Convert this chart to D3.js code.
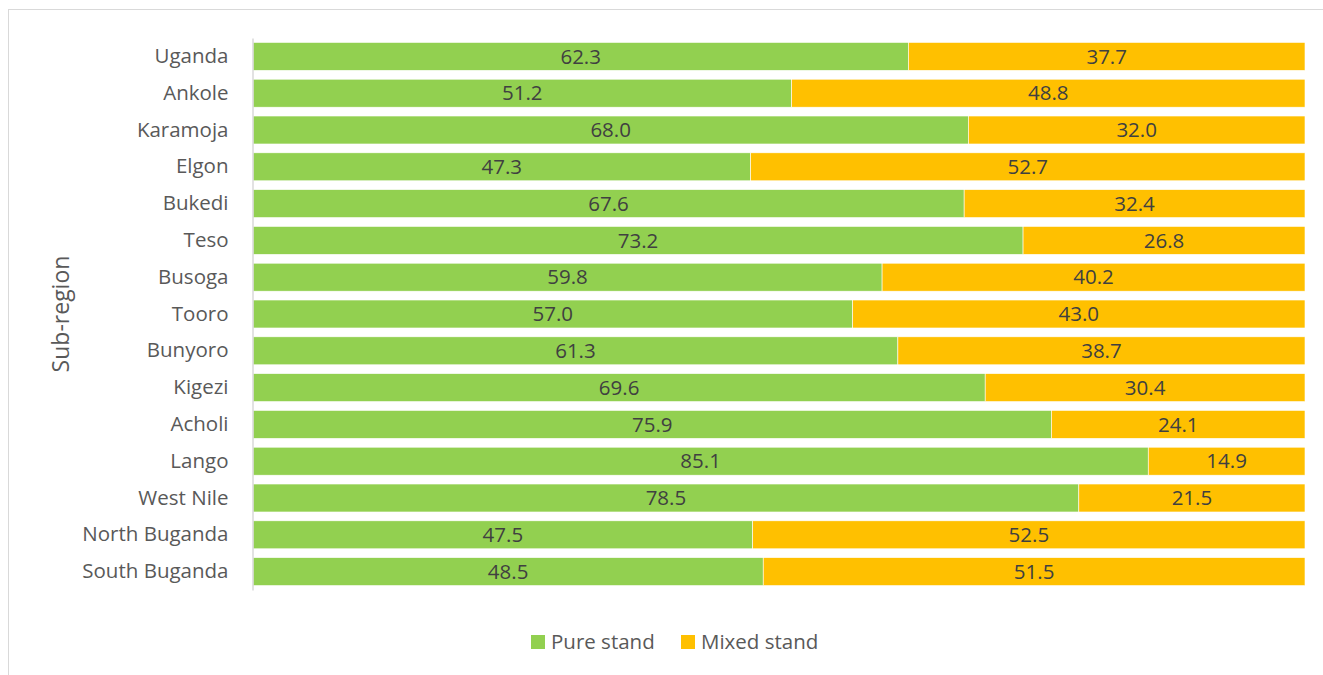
<!DOCTYPE html>
<html>
<head>
<meta charset="utf-8">
<script src="https://cdn.jsdelivr.net/npm/d3@7"></script>
<style>
  html, body { margin: 0; padding: 0; background: #fff; }
  svg { display: block; font-family: "Open Sans", sans-serif; }
</style>
</head>
<body>
<svg id="chart" width="1323" height="675"></svg>
<script>
const categories = ["Uganda","Ankole","Karamoja","Elgon","Bukedi","Teso","Busoga","Tooro","Bunyoro","Kigezi","Acholi","Lango","West Nile","North Buganda","South Buganda"];
const pureStand  = [62.3,51.2,68.0,47.3,67.6,73.2,59.8,57.0,61.3,69.6,75.9,85.1,78.5,47.5,48.5];
const mixedStand = [37.7,48.8,32.0,52.7,32.4,26.8,40.2,43.0,38.7,30.4,24.1,14.9,21.5,52.5,51.5];
const seriesNames = ["Pure stand","Mixed stand"];
const seriesColors = ["#92D050","#FFC000"];
const axisTitle = "Sub-region";

const svg = d3.select("#chart");
const W = 1323, H = 675;

// outer frame
svg.append("rect").attr("x", 8.5).attr("y", 9.5).attr("width", W + 20).attr("height", H + 20)
  .attr("fill", "none").attr("stroke", "#d9d9d9").attr("stroke-width", 1);

const pLeft = 253, pRight = 1305, pTop = 38, pBottom = 590;

const x = d3.scaleLinear().domain([0, 100]).range([pLeft, pRight]);
const y = d3.scaleBand().domain(categories).range([pTop, pBottom]).paddingInner(0.24).paddingOuter(0.12);

const stackData = categories.map((c, i) => ({cat: c, pure: pureStand[i], mixed: mixedStand[i]}));
const stack = d3.stack().keys(["pure","mixed"])(stackData);

const g = svg.append("g");
stack.forEach((layer, si) => {
  g.selectAll(".bar" + si).data(layer).enter().append("rect")
    .attr("x", d => x(d[0]))
    .attr("y", d => y(d.data.cat))
    .attr("width", d => x(d[1]) - x(d[0]))
    .attr("height", y.bandwidth())
    .attr("fill", seriesColors[si])
    .attr("stroke", "#ffffff").attr("stroke-width", 0.6);
  g.selectAll(".lbl" + si).data(layer).enter().append("text")
    .attr("x", d => (x(d[0]) + x(d[1])) / 2)
    .attr("y", d => y(d.data.cat) + y.bandwidth() / 2)
    .attr("dy", "0.35em")
    .attr("text-anchor", "middle")
    .attr("font-size", 20.5)
    .attr("fill", "#404040")
    .text(d => (d[1] - d[0]).toFixed(1));
});

// y axis
const yAxis = d3.axisLeft(y).tickSize(0).tickPadding(24);
const ya = svg.append("g").attr("transform", `translate(${pLeft - 0.5},0)`).call(yAxis);
ya.select(".domain").attr("stroke", "#d9d9d9").attr("stroke-width", 1.5);
ya.selectAll("text").attr("font-size", 20.5).attr("fill", "#595959").attr("font-family", "Open Sans, sans-serif");

// axis title
svg.append("text")
  .attr("transform", `translate(69,${(pTop + pBottom) / 2}) rotate(-90)`)
  .attr("text-anchor", "middle")
  .attr("font-size", 23)
  .attr("fill", "#595959")
  .text(axisTitle);

// legend
const legendX = [531, 681];
const leg = svg.append("g");
seriesNames.forEach((n, i) => {
  leg.append("rect").attr("x", legendX[i]).attr("y", 635).attr("width", 14).attr("height", 14).attr("fill", seriesColors[i]);
  leg.append("text").attr("x", legendX[i] + 20).attr("y", 642).attr("dy", "0.35em")
    .attr("font-size", 20.5).attr("fill", "#595959").text(n);
});
</script>
</body>
</html>
